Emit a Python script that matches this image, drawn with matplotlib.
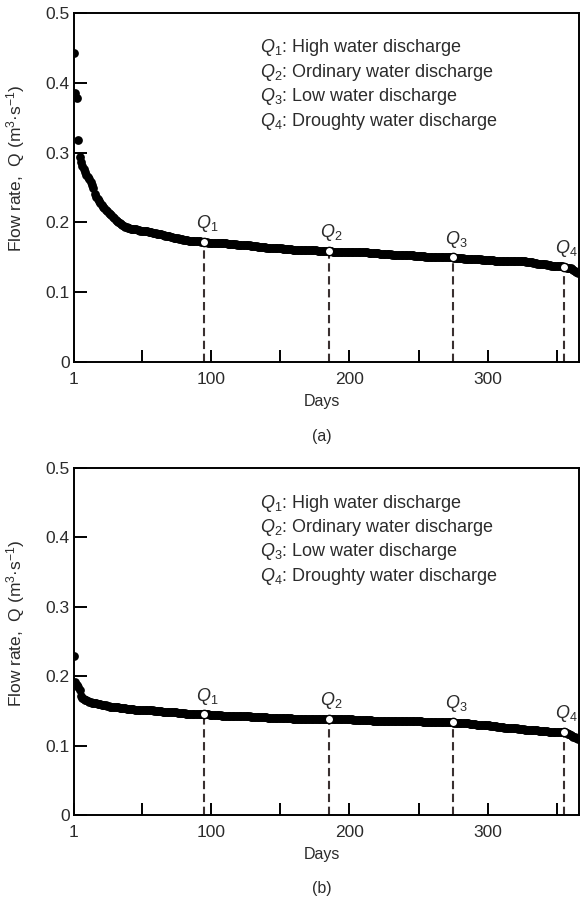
import numpy as np
import matplotlib
matplotlib.use('Agg')
import matplotlib.pyplot as plt

plt.rcParams['font.family'] = 'Liberation Sans'
plt.rcParams['mathtext.fontset'] = 'custom'
plt.rcParams['mathtext.rm'] = 'Liberation Sans'
plt.rcParams['mathtext.it'] = 'Liberation Sans:italic'
plt.rcParams['text.color'] = '#222222'

# caudales diarios ordenados (curva de duracion), m3/s
caudal_a = [
    0.443, 0.385, 0.378, 0.318, 0.293, 0.286, 0.281, 0.276, 0.272, 0.268,
    0.265, 0.262, 0.258, 0.254, 0.250, 0.240, 0.237, 0.234, 0.231, 0.228,
    0.225, 0.222, 0.220, 0.218, 0.216, 0.214, 0.212, 0.210, 0.208, 0.206,
    0.204, 0.202, 0.201, 0.199, 0.198, 0.196, 0.195, 0.194, 0.193, 0.192,
    0.192, 0.191, 0.191, 0.190, 0.190, 0.190, 0.189, 0.189, 0.188, 0.188,
    0.188, 0.187, 0.187, 0.187, 0.186, 0.186, 0.186, 0.185, 0.185, 0.185,
    0.184, 0.184, 0.183, 0.183, 0.182, 0.182, 0.181, 0.181, 0.180, 0.180,
    0.179, 0.179, 0.178, 0.178, 0.177, 0.177, 0.176, 0.176, 0.176, 0.175,
    0.175, 0.175, 0.175, 0.174, 0.174, 0.174, 0.174, 0.173, 0.173, 0.173,
    0.173, 0.173, 0.172, 0.172, 0.172, 0.172, 0.172, 0.171, 0.171, 0.171,
    0.171, 0.171, 0.171, 0.170, 0.170, 0.170, 0.170, 0.170, 0.170, 0.170,
    0.170, 0.169, 0.169, 0.169, 0.169, 0.169, 0.169, 0.169, 0.168, 0.168,
    0.168, 0.168, 0.168, 0.167, 0.167, 0.167, 0.167, 0.167, 0.166, 0.166,
    0.166, 0.166, 0.166, 0.165, 0.165, 0.165, 0.165, 0.165, 0.165, 0.164,
    0.164, 0.164, 0.164, 0.164, 0.164, 0.163, 0.163, 0.163, 0.163, 0.163,
    0.163, 0.162, 0.162, 0.162, 0.162, 0.162, 0.162, 0.162, 0.161, 0.161,
    0.161, 0.161, 0.161, 0.161, 0.161, 0.161, 0.160, 0.160, 0.160, 0.160,
    0.160, 0.160, 0.160, 0.160, 0.160, 0.160, 0.159, 0.159, 0.159, 0.159,
    0.159, 0.159, 0.159, 0.159, 0.159, 0.159, 0.159, 0.158, 0.158, 0.158,
    0.158, 0.158, 0.158, 0.158, 0.158, 0.158, 0.158, 0.158, 0.157, 0.157,
    0.157, 0.157, 0.157, 0.157, 0.157, 0.157, 0.157, 0.157, 0.157, 0.157,
    0.157, 0.157, 0.157, 0.156, 0.156, 0.156, 0.156, 0.156, 0.156, 0.156,
    0.156, 0.155, 0.155, 0.155, 0.155, 0.155, 0.155, 0.155, 0.155, 0.155,
    0.154, 0.154, 0.154, 0.154, 0.154, 0.154, 0.154, 0.154, 0.153, 0.153,
    0.153, 0.153, 0.153, 0.153, 0.153, 0.153, 0.152, 0.152, 0.152, 0.152,
    0.152, 0.152, 0.152, 0.152, 0.151, 0.151, 0.151, 0.151, 0.151, 0.151,
    0.151, 0.151, 0.151, 0.150, 0.150, 0.150, 0.150, 0.150, 0.150, 0.150,
    0.150, 0.150, 0.150, 0.150, 0.150, 0.149, 0.149, 0.149, 0.149, 0.149,
    0.149, 0.149, 0.148, 0.148, 0.148, 0.148, 0.148, 0.148, 0.147, 0.147,
    0.147, 0.147, 0.147, 0.147, 0.147, 0.146, 0.146, 0.146, 0.146, 0.146,
    0.146, 0.146, 0.146, 0.146, 0.145, 0.145, 0.145, 0.145, 0.145, 0.145,
    0.145, 0.145, 0.145, 0.145, 0.145, 0.144, 0.144, 0.144, 0.144, 0.144,
    0.144, 0.144, 0.144, 0.144, 0.144, 0.144, 0.144, 0.143, 0.143, 0.143,
    0.143, 0.143, 0.142, 0.142, 0.142, 0.141, 0.141, 0.141, 0.140, 0.140,
    0.140, 0.140, 0.139, 0.139, 0.139, 0.138, 0.138, 0.138, 0.138, 0.137,
    0.137, 0.137, 0.137, 0.137, 0.136, 0.136, 0.135, 0.135, 0.134, 0.134,
    0.133, 0.132, 0.131, 0.129, 0.127,
]

caudal_b = [
    0.229, 0.192, 0.188, 0.184, 0.180, 0.171, 0.169, 0.167, 0.166, 0.165,
    0.164, 0.163, 0.163, 0.162, 0.162, 0.161, 0.161, 0.160, 0.160, 0.160,
    0.159, 0.159, 0.158, 0.158, 0.157, 0.157, 0.156, 0.156, 0.156, 0.155,
    0.155, 0.155, 0.155, 0.154, 0.154, 0.154, 0.154, 0.154, 0.153, 0.153,
    0.153, 0.153, 0.153, 0.153, 0.152, 0.152, 0.152, 0.152, 0.152, 0.152,
    0.152, 0.151, 0.151, 0.151, 0.151, 0.151, 0.151, 0.151, 0.150, 0.150,
    0.150, 0.150, 0.150, 0.150, 0.149, 0.149, 0.149, 0.149, 0.149, 0.148,
    0.148, 0.148, 0.148, 0.148, 0.148, 0.147, 0.147, 0.147, 0.147, 0.147,
    0.147, 0.146, 0.146, 0.146, 0.146, 0.146, 0.146, 0.146, 0.145, 0.145,
    0.145, 0.145, 0.145, 0.145, 0.145, 0.145, 0.145, 0.145, 0.144, 0.144,
    0.144, 0.144, 0.144, 0.144, 0.144, 0.144, 0.144, 0.143, 0.143, 0.143,
    0.143, 0.143, 0.143, 0.143, 0.143, 0.143, 0.143, 0.142, 0.142, 0.142,
    0.142, 0.142, 0.142, 0.142, 0.142, 0.142, 0.142, 0.142, 0.141, 0.141,
    0.141, 0.141, 0.141, 0.141, 0.141, 0.141, 0.141, 0.141, 0.141, 0.141,
    0.140, 0.140, 0.140, 0.140, 0.140, 0.140, 0.140, 0.140, 0.140, 0.140,
    0.140, 0.140, 0.140, 0.140, 0.140, 0.140, 0.140, 0.140, 0.139, 0.139,
    0.139, 0.139, 0.139, 0.139, 0.139, 0.139, 0.139, 0.139, 0.139, 0.139,
    0.139, 0.139, 0.139, 0.139, 0.139, 0.139, 0.139, 0.139, 0.139, 0.139,
    0.139, 0.139, 0.139, 0.139, 0.139, 0.138, 0.138, 0.138, 0.138, 0.138,
    0.138, 0.138, 0.138, 0.138, 0.138, 0.138, 0.138, 0.138, 0.138, 0.138,
    0.138, 0.138, 0.137, 0.137, 0.137, 0.137, 0.137, 0.137, 0.137, 0.137,
    0.137, 0.137, 0.137, 0.137, 0.137, 0.137, 0.136, 0.136, 0.136, 0.136,
    0.136, 0.136, 0.136, 0.136, 0.136, 0.136, 0.136, 0.136, 0.136, 0.136,
    0.136, 0.136, 0.136, 0.136, 0.136, 0.135, 0.135, 0.135, 0.135, 0.135,
    0.135, 0.135, 0.135, 0.135, 0.135, 0.135, 0.135, 0.135, 0.135, 0.135,
    0.135, 0.135, 0.134, 0.134, 0.134, 0.134, 0.134, 0.134, 0.134, 0.134,
    0.134, 0.134, 0.134, 0.134, 0.134, 0.134, 0.134, 0.134, 0.134, 0.134,
    0.134, 0.134, 0.134, 0.134, 0.134, 0.133, 0.133, 0.133, 0.133, 0.133,
    0.133, 0.132, 0.132, 0.132, 0.132, 0.132, 0.131, 0.131, 0.131, 0.131,
    0.131, 0.130, 0.130, 0.130, 0.130, 0.130, 0.129, 0.129, 0.129, 0.129,
    0.129, 0.128, 0.128, 0.128, 0.128, 0.128, 0.127, 0.127, 0.127, 0.127,
    0.127, 0.126, 0.126, 0.126, 0.126, 0.126, 0.125, 0.125, 0.125, 0.125,
    0.125, 0.124, 0.124, 0.124, 0.124, 0.124, 0.123, 0.123, 0.123, 0.123,
    0.123, 0.122, 0.122, 0.122, 0.122, 0.122, 0.121, 0.121, 0.121, 0.121,
    0.121, 0.121, 0.121, 0.120, 0.120, 0.120, 0.120, 0.120, 0.120, 0.120,
    0.120, 0.120, 0.120, 0.120, 0.120, 0.119, 0.118, 0.117, 0.116, 0.115,
    0.114, 0.113, 0.112, 0.111, 0.110,
]

# dias de referencia Q1..Q4
dias_q = [95, 185, 275, 355]
etiquetas_q = ['$Q_1$', '$Q_2$', '$Q_3$', '$Q_4$']
leyenda = [
    '$Q_1$: High water discharge',
    '$Q_2$: Ordinary water discharge',
    '$Q_3$: Low water discharge',
    '$Q_4$: Droughty water discharge',
]
x_ticks = [1, 50, 100, 150, 200, 250, 300, 350]
x_ticklabels = ['1', '', '100', '', '200', '', '300', '']
y_ticks = [0, 0.1, 0.2, 0.3, 0.4, 0.5]
y_ticklabels = ['0', '0.1', '0.2', '0.3', '0.4', '0.5']

W, H = 580, 902
gris = '#2b2b2b'
fig = plt.figure(figsize=(W / 100, H / 100), dpi=100)


def panel(caja, caudal, letra):
    izq, arriba, der, abajo = caja
    ax = fig.add_axes([izq / W, 1 - abajo / H, (der - izq) / W, (abajo - arriba) / H])
    alto = abajo - arriba
    dias = np.arange(1, len(caudal) + 1)
    ax.plot(dias, caudal, 'o', color='black', ms=6.3, mew=0, zorder=2)
    for d, et in zip(dias_q, etiquetas_q):
        q = caudal[d - 1]
        ax.plot([d, d], [0, q], ls=(0, (4, 2.2)), color='#3a3030', lw=1.5, zorder=1)
        ax.plot(d, q, 'o', mfc='white', mec='black', ms=6, mew=1, zorder=3)
        ax.annotate(et, (d, q), xytext=(2, 5.5), textcoords='offset points',
                    ha='center', va='bottom', fontsize=13, color=gris)
    ax.set_xlim(1, 366)
    ax.set_ylim(0, 0.5)
    ax.set_xticks(x_ticks)
    ax.set_xticklabels(x_ticklabels)
    ax.set_yticks(y_ticks)
    ax.set_yticklabels(y_ticklabels)
    ax.tick_params(direction='in', length=9, width=1.4, labelsize=12.5,
                   labelcolor=gris)
    ax.tick_params(axis='x', pad=7)
    ax.tick_params(axis='y', pad=3)
    for s in ax.spines.values():
        s.set_linewidth(1.4)
    ax.set_xlabel('Days', fontsize=11.5, color=gris)
    ax.xaxis.set_label_coords((322 - izq) / (der - izq), -0.092)
    ax.set_ylabel('Flow rate,  Q (m$^{3}$·s$^{-1}$)', fontsize=12.5, color=gris)
    ax.yaxis.set_label_coords((27 - izq) / (der - izq), (abajo - 168 - (arriba - 13)) / alto)
    for i, t in enumerate(leyenda):
        ax.text((260 - izq) / (der - izq), 1 - (35 + 24.4 * i) / alto, t,
                transform=ax.transAxes, ha='left', va='center', fontsize=13,
                color=gris)
    fig.text(322 / W, 1 - (abajo + 74) / H, letra, ha='center', va='center',
             fontsize=11.5, color=gris)
    return ax


panel((74, 13, 579, 362), caudal_a, '(a)')
panel((74, 468, 579, 815), caudal_b, '(b)')

fig.savefig('out.png', dpi=100)
